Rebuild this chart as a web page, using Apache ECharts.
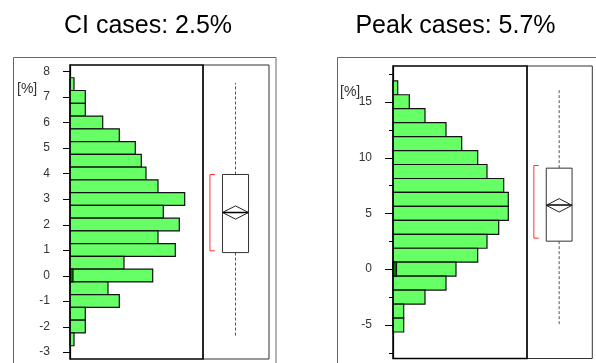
<!DOCTYPE html>
<html>
<head>
<meta charset="utf-8">
<script src="https://cdn.jsdelivr.net/npm/echarts@6/dist/echarts.min.js"></script>
<style>
  html, body { margin: 0; padding: 0; background: #fff; }
  #chart { width: 596px; height: 363px; }
</style>
</head>
<body>
<div id="chart"></div>
<script>
// ---- CI cases: histogram of simulated changes (bins of 0.5 %) ----
const ciBins = [7.5, 7, 6.5, 6, 5.5, 5, 4.5, 4, 3.5, 3, 2.5, 2, 1.5, 1, 0.5, 0, -0.5, -1, -1.5, -2, -2.5];
const ciFreq = [4, 15.3, 15.3, 32.7, 49.3, 65.3, 71.3, 76, 88, 114.7, 93.3, 109.3, 88, 105.3, 54, 82.7, 38, 49.3, 15.3, 15.3, 4];
const ciZeroFreq = [[0, 3]];
// whiskerLow, Q1, median, Q3, whiskerHigh, mean, meanHalfWidth, ciLow, ciHigh
const ciStats = [-2.4, 0.9, 2.47, 3.96, 7.55, 2.47, 0.26, 0.97, 3.96];
const ciTicks = [-3, -2, -1, 0, 1, 2, 3, 4, 5, 6, 7, 8];

// ---- Peak cases: histogram of simulated changes (bins of 1.25 %) ----
const peakBins = [16.25, 15, 13.75, 12.5, 11.25, 10, 8.75, 7.5, 6.25, 5, 3.75, 2.5, 1.25, 0, -1.25, -2.5, -3.75, -5];
const peakFreq = [4.7, 16.3, 32, 53, 68.7, 84.7, 94, 110.7, 115.3, 115.3, 105.7, 94, 84.7, 63, 53, 32, 10.7, 10.7];
const peakZeroFreq = [[0, 3.5]];
const peakStats = [-5.04, 2.51, 5.75, 9.05, 16.1, 5.72, 0.6, 2.78, 9.29];
const peakTicks = [-5, 0, 5, 10, 15];
const peakMinorTicks = [-7.5, -2.5, 2.5, 7.5, 12.5, 17.5];

const titles = ['CI cases: 2.5%', 'Peak cases: 5.7%'];
const unitLabel = '[%]';

const FONT = '"Liberation Sans", Arial, sans-serif';

// value extents of the two histogram plots
const ciRange = [-3.27, 8.25];
const peakRange = [-8, 18.2];
// histogram plot widths (frequency units) and room left for tick marks
const ciWidth = 133, peakWidth = 134;
const ciTickRoom = 7, peakTickRoom = 8;

function barRenderer(halfBin, fill) {
  return function (params, api) {
    const y = api.value(0);
    const len = api.value(1);
    const p0 = api.coord([0, y + halfBin]);
    const p1 = api.coord([len, y - halfBin]);
    return {
      type: 'rect',
      shape: { x: p0[0], y: p0[1], width: p1[0] - p0[0], height: p1[1] - p0[1] },
      style: { fill: fill, stroke: '#111', lineWidth: 1.2 }
    };
  };
}

// tick mark running from -len up to the axis at frequency 0
function tickRenderer(len) {
  return function (params, api) {
    const a = api.coord([-len, api.value(0)]);
    const b = api.coord([0, api.value(0)]);
    const y = Math.round(a[1]) + 0.5;
    return {
      type: 'line',
      shape: { x1: a[0], y1: y, x2: b[0], y2: y },
      style: { stroke: '#000', lineWidth: 1 }
    };
  };
}

// plot frame around the histogram area
function frameRenderer(width, range) {
  return function (params, api) {
    const tl = api.coord([0, range[1]]);
    const br = api.coord([width, range[0]]);
    return {
      type: 'rect',
      shape: { x: tl[0], y: tl[1], width: br[0] - tl[0], height: br[1] - tl[1] },
      style: { fill: 'none', stroke: '#000', lineWidth: 1.5 }
    };
  };
}

function boxRenderer(params, api) {
  const v = i => api.value(i);
  const X = (fx, val) => api.coord([fx, val]);
  const lo = v(0), q1 = v(1), med = v(2), q3 = v(3), hi = v(4);
  const mean = v(5), mh = v(6), cLo = v(7), cHi = v(8);
  const bl = 0.295, br = 0.69, bc = (bl + br) / 2;
  const pq3 = X(bl, q3), pq1 = X(br, q1);
  const children = [
    { type: 'line', shape: { x1: X(bc, q3)[0], y1: X(bc, q3)[1], x2: X(bc, hi)[0], y2: X(bc, hi)[1] },
      style: { stroke: '#555', lineWidth: 1, lineDash: [3, 2] } },
    { type: 'line', shape: { x1: X(bc, q1)[0], y1: X(bc, q1)[1], x2: X(bc, lo)[0], y2: X(bc, lo)[1] },
      style: { stroke: '#555', lineWidth: 1, lineDash: [3, 2] } },
    { type: 'rect', shape: { x: pq3[0], y: pq3[1], width: pq1[0] - pq3[0], height: pq1[1] - pq3[1] },
      style: { fill: '#fff', stroke: '#333', lineWidth: 1 } },
    { type: 'line', shape: { x1: X(bl, med)[0], y1: X(bl, med)[1], x2: X(br, med)[0], y2: X(br, med)[1] },
      style: { stroke: '#000', lineWidth: 1.5 } },
    { type: 'polygon', shape: { points: [X(bl, mean), X(bc, mean + mh), X(br, mean), X(bc, mean - mh)] },
      style: { fill: 'none', stroke: '#222', lineWidth: 1 } },
    { type: 'polyline', shape: { points: [X(0.18, cHi), X(0.105, cHi), X(0.105, cLo), X(0.18, cLo)] },
      style: { fill: 'none', stroke: '#ff3333', lineWidth: 1 } }
  ];
  return { type: 'group', children: children };
}

const axisLabelStyle = { color: '#333', fontSize: 12, fontFamily: FONT };

const option = {
  backgroundColor: '#fff',
  animation: false,
  title: [
    { text: titles[0], left: 148, top: 14, textAlign: 'center', padding: 0,
      textStyle: { fontSize: 25, fontWeight: 'normal', color: '#000', fontFamily: FONT } },
    { text: titles[1], left: 455.5, top: 14, textAlign: 'center', padding: 0,
      textStyle: { fontSize: 25, fontWeight: 'normal', color: '#000', fontFamily: FONT } }
  ],
  grid: [
    { left: 63, top: 65, width: 140, height: 294, show: false },
    { left: 203, top: 65, width: 66, height: 294, show: true, borderColor: '#333', borderWidth: 1 },
    { left: 385, top: 66, width: 142, height: 292.5, show: false },
    { left: 527, top: 66, width: 65.3, height: 292.5, show: true, borderColor: '#333', borderWidth: 1 }
  ],
  xAxis: [
    { gridIndex: 0, type: 'value', min: -ciTickRoom, max: ciWidth, show: false },
    { gridIndex: 1, type: 'value', min: 0, max: 1, show: false },
    { gridIndex: 2, type: 'value', min: -peakTickRoom, max: peakWidth, show: false },
    { gridIndex: 3, type: 'value', min: 0, max: 1, show: false }
  ],
  yAxis: [
    { gridIndex: 0, type: 'value', min: ciRange[0], max: ciRange[1],
      axisLine: { show: true, onZero: true, lineStyle: { color: '#000', width: 1.2 } },
      axisTick: { show: false },
      axisLabel: Object.assign({ margin: 13, customValues: ciTicks }, axisLabelStyle),
      splitLine: { show: false } },
    { gridIndex: 1, type: 'value', min: ciRange[0], max: ciRange[1], show: false },
    { gridIndex: 2, type: 'value', min: peakRange[0], max: peakRange[1],
      axisLine: { show: true, onZero: true, lineStyle: { color: '#000', width: 1.2 } },
      axisTick: { show: false },
      axisLabel: Object.assign({ margin: 13, customValues: peakTicks }, axisLabelStyle),
      splitLine: { show: false } },
    { gridIndex: 3, type: 'value', min: peakRange[0], max: peakRange[1], show: false }
  ],
  series: [
    { type: 'custom', xAxisIndex: 0, yAxisIndex: 0, renderItem: barRenderer(0.25, '#66ff66'),
      encode: { x: 1, y: 0 }, data: ciBins.map((b, i) => [b, ciFreq[i]]) },
    { type: 'custom', xAxisIndex: 0, yAxisIndex: 0, renderItem: barRenderer(0.25, '#007700'),
      encode: { x: 1, y: 0 }, data: ciZeroFreq },
    { type: 'custom', xAxisIndex: 0, yAxisIndex: 0, renderItem: tickRenderer(ciTickRoom), z: 5,
      encode: { x: 1, y: 0 }, data: ciTicks.map(t => [t, 0]) },
    { type: 'custom', xAxisIndex: 0, yAxisIndex: 0, renderItem: frameRenderer(ciWidth, ciRange), z: 6,
      encode: { x: 1, y: 0 }, data: [[0, 0]] },
    { type: 'custom', xAxisIndex: 1, yAxisIndex: 1, renderItem: boxRenderer, data: [ciStats] },
    { type: 'custom', xAxisIndex: 2, yAxisIndex: 2, renderItem: barRenderer(0.625, '#66ff66'),
      encode: { x: 1, y: 0 }, data: peakBins.map((b, i) => [b, peakFreq[i]]) },
    { type: 'custom', xAxisIndex: 2, yAxisIndex: 2, renderItem: barRenderer(0.625, '#007700'),
      encode: { x: 1, y: 0 }, data: peakZeroFreq },
    { type: 'custom', xAxisIndex: 2, yAxisIndex: 2, renderItem: tickRenderer(peakTickRoom), z: 5,
      encode: { x: 1, y: 0 }, data: peakTicks.map(t => [t, 0]) },
    { type: 'custom', xAxisIndex: 2, yAxisIndex: 2, renderItem: tickRenderer(4), z: 5,
      encode: { x: 1, y: 0 }, data: peakMinorTicks.map(t => [t, 0]) },
    { type: 'custom', xAxisIndex: 2, yAxisIndex: 2, renderItem: frameRenderer(peakWidth, peakRange), z: 6,
      encode: { x: 1, y: 0 }, data: [[0, 0]] },
    { type: 'custom', xAxisIndex: 3, yAxisIndex: 3, renderItem: boxRenderer, data: [peakStats] }
  ],
  graphic: [
    { type: 'rect', z: -10, shape: { x: 13.5, y: 57.5, width: 262.5, height: 400 },
      style: { fill: 'none', stroke: '#666', lineWidth: 1 } },
    { type: 'rect', z: -10, shape: { x: 337.5, y: 57.5, width: 300, height: 400 },
      style: { fill: 'none', stroke: '#666', lineWidth: 1 } },
    { type: 'text', x: 17, y: 82, style: { text: unitLabel, fill: '#333', fontSize: 14, fontFamily: FONT } },
    { type: 'text', x: 340, y: 85, style: { text: unitLabel, fill: '#333', fontSize: 14, fontFamily: FONT } }
  ]
};

const chart = echarts.init(document.getElementById('chart'), null, { renderer: 'canvas' });
chart.setOption(option);
</script>
</body>
</html>
